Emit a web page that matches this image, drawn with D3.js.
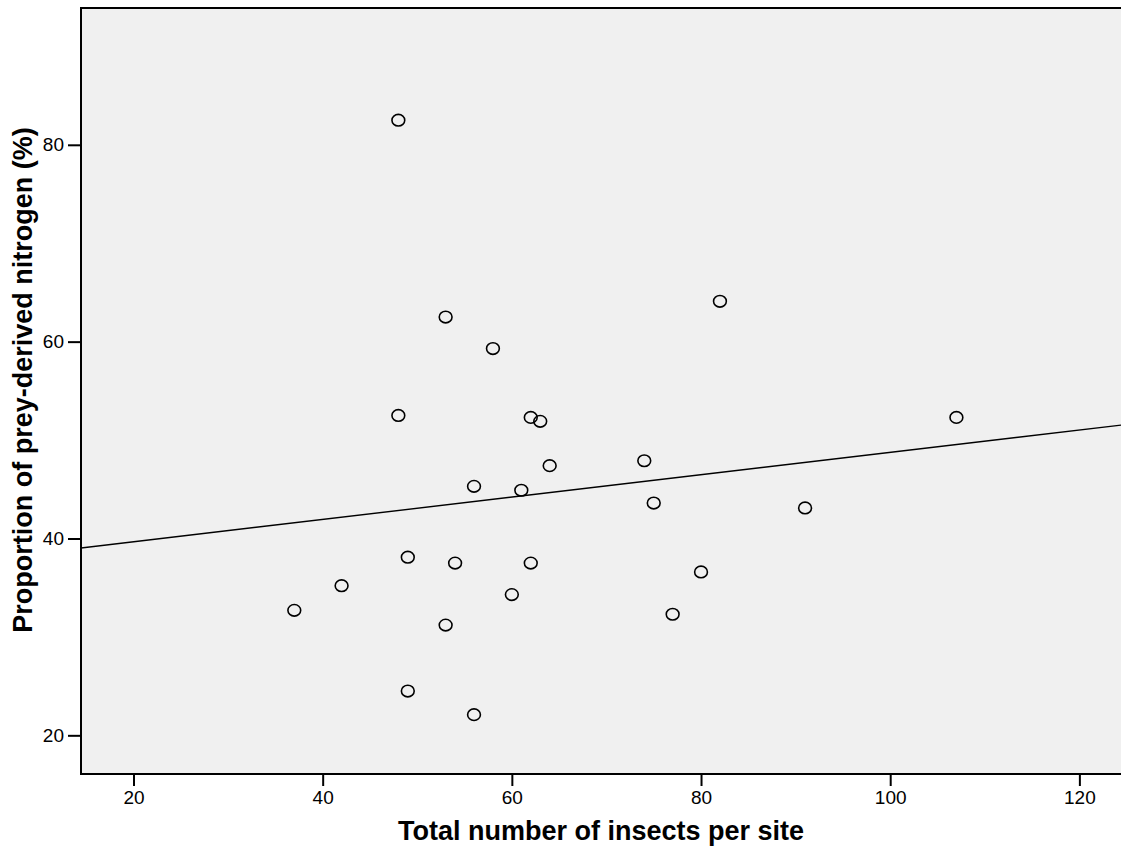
<!DOCTYPE html>
<html>
<head>
<meta charset="utf-8">
<script src="https://cdn.jsdelivr.net/npm/d3@7"></script>
<style>
  html, body { margin: 0; padding: 0; background: #ffffff; }
  svg { display: block; }
  text { font-family: "Liberation Sans", Arial, sans-serif; fill: #000; }
</style>
</head>
<body>
<svg id="chart" width="1121" height="850"></svg>
<script>
// Data
const insects = [48, 53, 58, 82, 48, 62, 63, 107, 64, 74, 56, 61, 75, 91, 49, 42, 37, 54, 62, 80, 60, 53, 77, 49, 56];
const preyN   = [82.5, 62.5, 59.3, 64.1, 52.5, 52.3, 51.9, 52.3, 47.4, 47.9, 45.3, 44.9, 43.6, 43.1, 38.1, 35.2, 32.7, 37.5, 37.5, 36.6, 34.3, 31.2, 32.3, 24.5, 22.1];
const xTicks = [20, 40, 60, 80, 100, 120];
const yTicks = [20, 40, 60, 80];
const fitLine = [37.39, 0.1136]; // intercept, slope of the drawn fit line
const xDomain = [14.45, 124.4];
const yDomain = [16.07, 93.9];
const xTitle = "Total number of insects per site";
const yTitle = "Proportion of prey-derived nitrogen (%)";

const svg = d3.select("#chart");
const plot = { left: 81, right: 1121, top: 8, bottom: 774 };

const x = d3.scaleLinear().domain(xDomain).range([plot.left, plot.right]);
const y = d3.scaleLinear().domain(yDomain).range([plot.bottom, plot.top]);

// Background
svg.append("rect")
  .attr("x", plot.left).attr("y", plot.top)
  .attr("width", plot.right - plot.left).attr("height", plot.bottom - plot.top)
  .attr("fill", "#f0f0f0");

// Fit line (clipped to plot)
svg.append("clipPath").attr("id", "clip").append("rect")
  .attr("x", plot.left).attr("y", plot.top)
  .attr("width", plot.right - plot.left).attr("height", plot.bottom - plot.top);

const lineData = xDomain.map(v => [v, fitLine[0] + fitLine[1] * v]);
svg.append("path")
  .datum(lineData)
  .attr("clip-path", "url(#clip)")
  .attr("fill", "none")
  .attr("stroke", "#000")
  .attr("stroke-width", 1.4)
  .attr("d", d3.line().x(d => x(d[0])).y(d => y(d[1])));

// Points
const pts = insects.map((v, i) => ({ x: v, y: preyN[i] }));
svg.append("g").selectAll("ellipse").data(pts).join("ellipse")
  .attr("cx", d => x(d.x)).attr("cy", d => y(d.y))
  .attr("rx", 6.4).attr("ry", 5.8)
  .attr("fill", "none").attr("stroke", "#000").attr("stroke-width", 1.6);

// Axes
const xAxis = d3.axisBottom(x).tickValues(xTicks).tickSize(12).tickSizeOuter(0).tickPadding(5);
const yAxis = d3.axisLeft(y).tickValues(yTicks).tickSize(13).tickSizeOuter(0).tickPadding(4);

const gx = svg.append("g").attr("transform", `translate(0,${plot.bottom})`).call(xAxis);
const gy = svg.append("g").attr("transform", `translate(${plot.left},0)`).call(yAxis);
[gx, gy].forEach(g => {
  g.select(".domain").remove();
  g.selectAll(".tick line").attr("stroke", "#000").attr("stroke-width", 2);
  g.selectAll(".tick text").attr("font-size", 19).attr("font-family", "Liberation Sans, Arial, sans-serif").attr("fill", "#000");
});

// Frame lines (left, top, bottom)
svg.append("path")
  .attr("d", `M${plot.right},${plot.top}H${plot.left}V${plot.bottom}H${plot.right}`)
  .attr("fill", "none").attr("stroke", "#000").attr("stroke-width", 2);

// Titles
svg.append("text")
  .attr("x", (plot.left + plot.right) / 2).attr("y", 840)
  .attr("text-anchor", "middle")
  .attr("font-size", 27).attr("font-weight", "bold")
  .text(xTitle);

svg.append("text")
  .attr("transform", `translate(32,380) rotate(-90)`)
  .attr("text-anchor", "middle")
  .attr("font-size", 27).attr("font-weight", "bold")
  .text(yTitle);
</script>
</body>
</html>
